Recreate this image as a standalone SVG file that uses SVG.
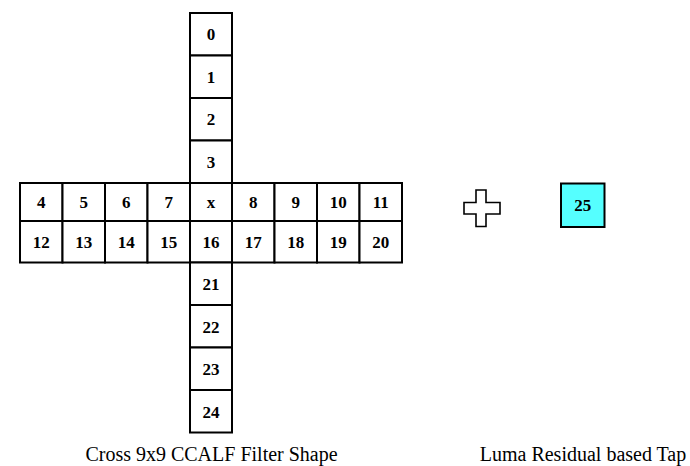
<svg xmlns="http://www.w3.org/2000/svg" width="690" height="466" viewBox="0 0 690 466">
<style>
.c{fill:#fff;stroke:#000;stroke-width:2}
.n{font-family:"Liberation Serif","Times New Roman",serif;font-weight:bold;font-size:17px;text-anchor:middle;fill:#000}
.l{font-family:"Liberation Serif","Times New Roman",serif;font-size:20px;text-anchor:middle;fill:#000}
</style>
<rect width="690" height="466" fill="#fff"/>
<g id="cross">
<g id="top">
<rect class="c" x="190" y="13" width="42" height="42.5"/><text class="n" x="211" y="40">0</text>
<rect class="c" x="190" y="55.5" width="42" height="42.5"/><text class="n" x="211" y="82.5">1</text>
<rect class="c" x="190" y="98" width="42" height="42.5"/><text class="n" x="211" y="125">2</text>
<rect class="c" x="190" y="140.5" width="42" height="42.5"/><text class="n" x="211" y="167.5">3</text>
</g>
<g id="row1">
<rect class="c" x="20" y="183" width="42.5" height="38"/><text class="n" x="41.25" y="208">4</text>
<rect class="c" x="62.5" y="183" width="42.5" height="38"/><text class="n" x="83.75" y="208">5</text>
<rect class="c" x="105" y="183" width="42.5" height="38"/><text class="n" x="126.25" y="208">6</text>
<rect class="c" x="147.5" y="183" width="42.5" height="38"/><text class="n" x="168.75" y="208">7</text>
<rect class="c" x="190" y="183" width="42" height="38"/><text class="n" x="211" y="208">x</text>
<rect class="c" x="232" y="183" width="42.5" height="38"/><text class="n" x="253.25" y="208">8</text>
<rect class="c" x="274.5" y="183" width="42.5" height="38"/><text class="n" x="295.75" y="208">9</text>
<rect class="c" x="317" y="183" width="42.5" height="38"/><text class="n" x="338.25" y="208">10</text>
<rect class="c" x="359.5" y="183" width="42.5" height="38"/><text class="n" x="380.75" y="208">11</text>
</g>
<g id="row2">
<rect class="c" x="20" y="221" width="42.5" height="41.5"/><text class="n" x="41.25" y="247.5">12</text>
<rect class="c" x="62.5" y="221" width="42.5" height="41.5"/><text class="n" x="83.75" y="247.5">13</text>
<rect class="c" x="105" y="221" width="42.5" height="41.5"/><text class="n" x="126.25" y="247.5">14</text>
<rect class="c" x="147.5" y="221" width="42.5" height="41.5"/><text class="n" x="168.75" y="247.5">15</text>
<rect class="c" x="190" y="221" width="42" height="41.5"/><text class="n" x="211" y="247.5">16</text>
<rect class="c" x="232" y="221" width="42.5" height="41.5"/><text class="n" x="253.25" y="247.5">17</text>
<rect class="c" x="274.5" y="221" width="42.5" height="41.5"/><text class="n" x="295.75" y="247.5">18</text>
<rect class="c" x="317" y="221" width="42.5" height="41.5"/><text class="n" x="338.25" y="247.5">19</text>
<rect class="c" x="359.5" y="221" width="42.5" height="41.5"/><text class="n" x="380.75" y="247.5">20</text>
</g>
<g id="bottom">
<rect class="c" x="190" y="262.5" width="42" height="42.5"/><text class="n" x="211" y="290">21</text>
<rect class="c" x="190" y="305" width="42" height="42.5"/><text class="n" x="211" y="332.5">22</text>
<rect class="c" x="190" y="347.5" width="42" height="42.5"/><text class="n" x="211" y="375">23</text>
<rect class="c" x="190" y="390" width="42" height="42.5"/><text class="n" x="211" y="417.5">24</text>
</g>
</g>
<g id="plus">
<path d="M476,190 H486 V202.5 H500 V214 H486 V226.5 H476 V214 H464 V202.5 H476 Z" fill="#fff" stroke="#000" stroke-width="1.6"/>
</g>
<g id="tap25">
<rect x="561" y="183.5" width="43.5" height="43.5" fill="#55ffff" stroke="#000" stroke-width="2"/>
<text class="n" x="582.75" y="211">25</text>
</g>
<g id="labels">
<text class="l" x="211.5" y="461">Cross 9x9 CCALF Filter Shape</text>
<text class="l" x="583" y="461">Luma Residual based Tap</text>
</g>
</svg>
